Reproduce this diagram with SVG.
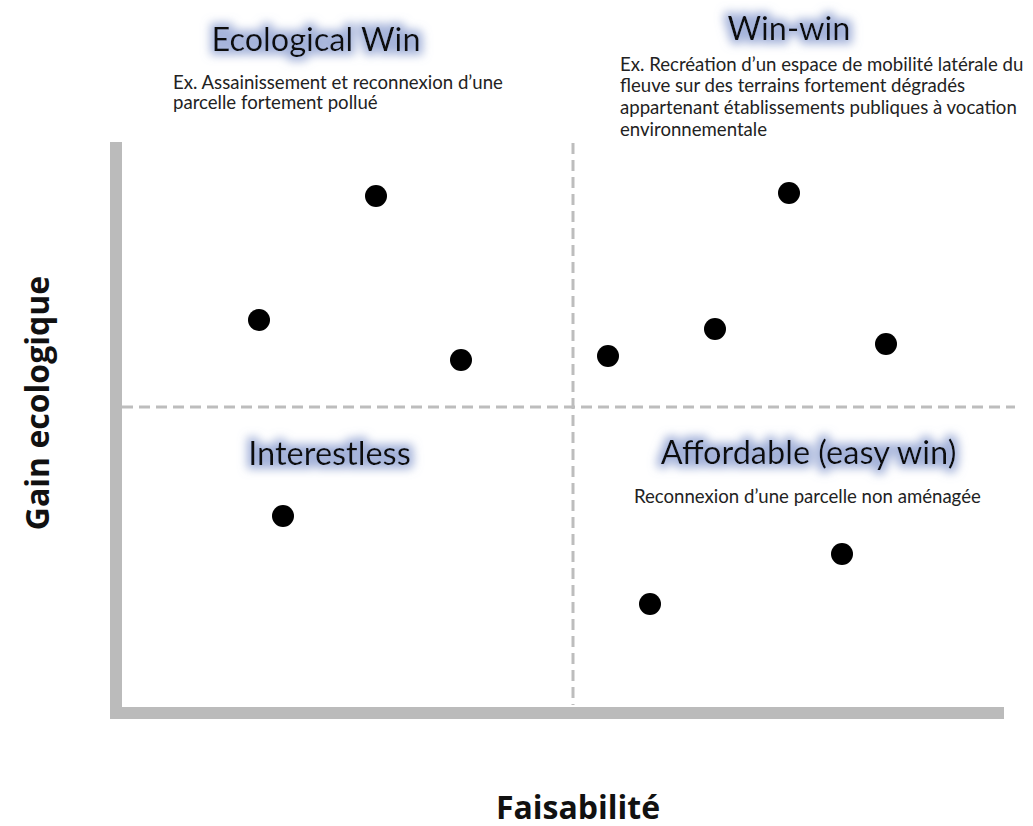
<svg xmlns="http://www.w3.org/2000/svg" width="1033" height="826" viewBox="0 0 1033 826">
<defs>
<style>
.title{font-family:Lato,"Open Sans",sans-serif;font-size:32.5px;fill:#111;}
.note{font-family:Lato,"Open Sans",sans-serif;font-size:18.6px;fill:#222;}
.axislbl{font-family:"Open Sans","DejaVu Sans",sans-serif;font-size:32px;font-weight:bold;fill:#111;}
.dash{stroke:#bdbdbd;stroke-width:3;stroke-dasharray:11,6;fill:none;}
.bar{fill:#bbbbbb;}
.dot{fill:#000;}
</style>
<filter id="glow" x="-20%" y="-60%" width="140%" height="220%">
<feMorphology in="SourceAlpha" operator="dilate" radius="4" result="d"/>
<feGaussianBlur in="d" stdDeviation="5" result="b"/>
<feFlood flood-color="#8ea0d0" flood-opacity="0.8"/>
<feComposite in2="b" operator="in" result="g"/>
<feMerge><feMergeNode in="g"/><feMergeNode in="SourceGraphic"/></feMerge>
</filter>
</defs>
<g id="axes">
<rect class="bar" x="110" y="142" width="12" height="577"/>
<rect class="bar" x="110" y="707" width="894" height="12"/>
</g>
<g id="connectors">
<line class="dash" x1="573" y1="143" x2="573" y2="705"/>
<line class="dash" x1="122" y1="407" x2="1015" y2="407"/>
</g>
<g id="ecological-win">
<text class="title" x="316" y="51" text-anchor="middle" filter="url(#glow)">Ecological Win</text>
<text class="note" x="173" y="89">Ex. Assainissement et reconnexion d’une</text>
<text class="note" x="173" y="109">parcelle fortement pollué</text>
</g>
<g id="win-win">
<text class="title" x="789" y="40" text-anchor="middle" filter="url(#glow)">Win-win</text>
<text class="note" x="620" y="71">Ex. Recréation d’un espace de mobilité latérale du</text>
<text class="note" x="620" y="92">fleuve sur des terrains fortement dégradés</text>
<text class="note" x="620" y="114">appartenant établissements publiques à vocation</text>
<text class="note" x="620" y="136">environnementale</text>
</g>
<g id="interestless">
<text class="title" x="329.5" y="465" text-anchor="middle" filter="url(#glow)">Interestless</text>
</g>
<g id="affordable">
<text class="title" x="808.5" y="464" text-anchor="middle" filter="url(#glow)">Affordable (easy win)</text>
<text class="note" x="634" y="503">Reconnexion d’une parcelle non aménagée</text>
</g>
<g id="points">
<circle class="dot" cx="376" cy="196" r="11"/>
<circle class="dot" cx="259" cy="320" r="11"/>
<circle class="dot" cx="461" cy="360" r="11"/>
<circle class="dot" cx="789" cy="193" r="11"/>
<circle class="dot" cx="715" cy="329" r="11"/>
<circle class="dot" cx="608" cy="356" r="11"/>
<circle class="dot" cx="886" cy="344" r="11"/>
<circle class="dot" cx="283" cy="516" r="11"/>
<circle class="dot" cx="842" cy="554" r="11"/>
<circle class="dot" cx="650" cy="604" r="11"/>
</g>
<g id="y-label">
<text class="axislbl" x="0" y="0" transform="translate(49,403) rotate(-90)" text-anchor="middle">Gain ecologique</text>
</g>
<g id="x-label">
<text class="axislbl" x="578" y="819" text-anchor="middle">Faisabilité</text>
</g>
</svg>
